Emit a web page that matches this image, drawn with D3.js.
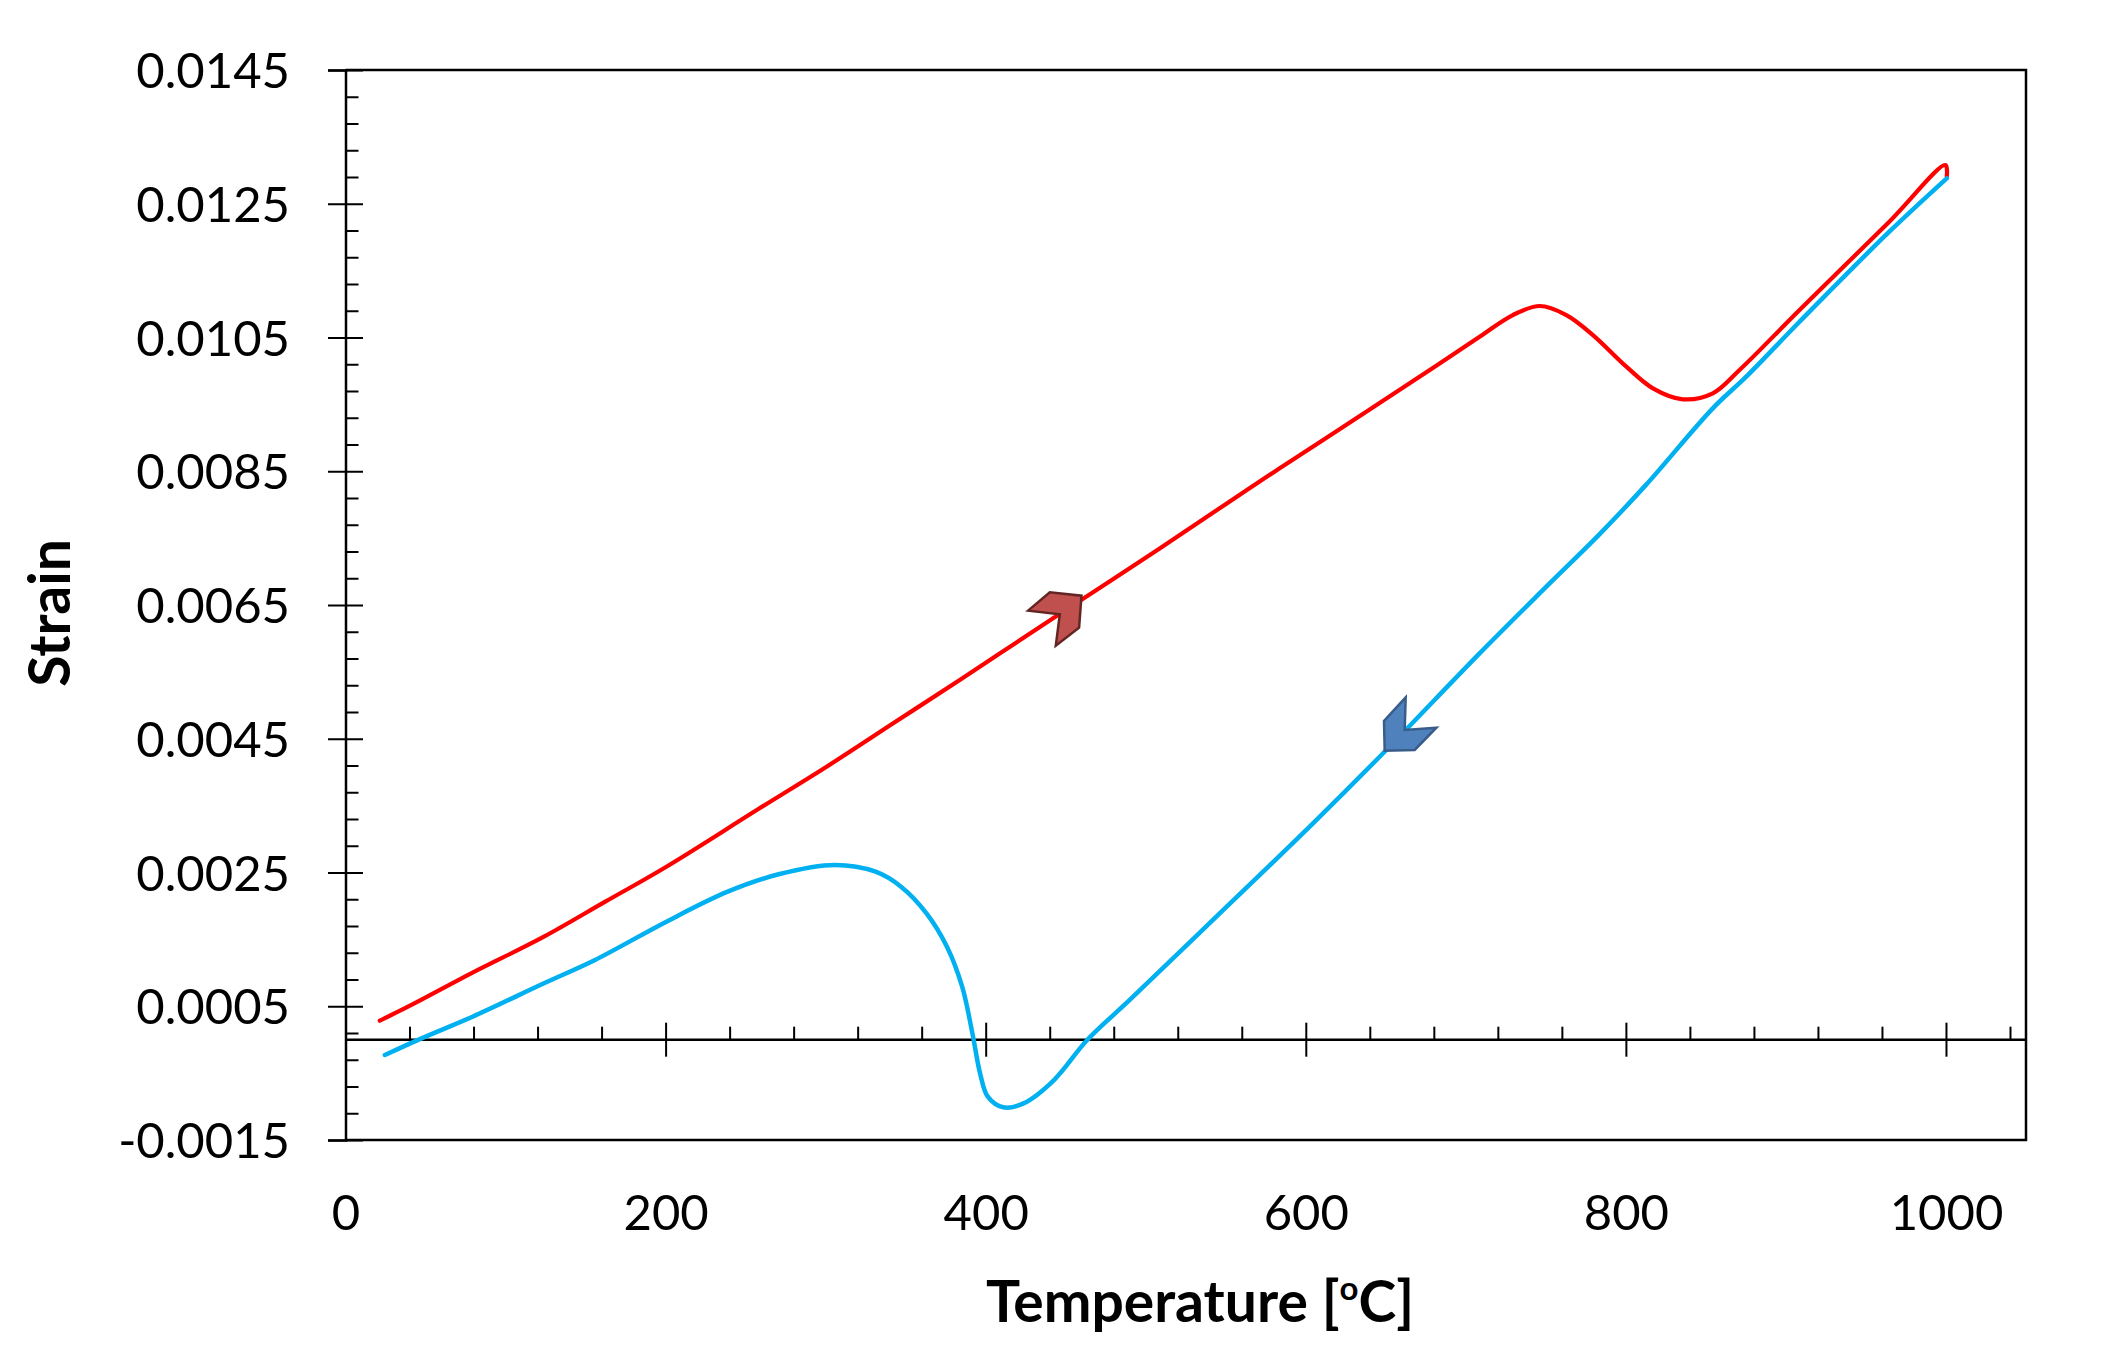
<!DOCTYPE html>
<html>
<head>
<meta charset="utf-8">
<script src="https://cdn.jsdelivr.net/npm/d3@7"></script>
<style>
  html, body { margin: 0; padding: 0; background: #ffffff; }
  svg { display: block; }
  text { font-family: "Lato", "Open Sans", sans-serif; fill: #000; }
</style>
</head>
<body>
<script>
// ---------------- DATA ----------------
// Heating curve (red): temperature [°C], strain
const heatingTemp = [21.4, 41.2, 79.4, 124, 162.3, 200.5, 258.7, 300.6, 342.2, 383.8, 442.1, 467.1, 508.7,
  550.4, 583.7, 625.4, 667, 708.6, 729.4, 746.1, 762.8, 779.4, 800.3, 816.9, 835.6, 854.3, 871, 908.5,
  964.6, 999.7, 1000.5];
const heatingStrain = [0.000284, 0.000519, 0.001002, 0.00154, 0.002064, 0.002587, 0.00346, 0.004082,
  0.004731, 0.005379, 0.006301, 0.006692, 0.007345, 0.008015, 0.008545, 0.009195, 0.009848, 0.010512,
  0.010836, 0.010971, 0.010836, 0.010537, 0.010064, 0.00974, 0.009576, 0.009665, 0.010014, 0.010911,
  0.012232, 0.013079, 0.012905];

// Cooling curve (blue): temperature [°C], strain
const coolingTemp = [1000.5, 964.6, 908.5, 875.2, 854.3, 812.7, 783.6, 750.3, 708.6, 650.3, 604.5, 542, 490,
  463.4, 442.7, 423.6, 410.9, 401.3, 396.5, 391.7, 385.3, 375.8, 363, 347.1, 331.2, 305.7, 270.6,
  238.8, 200.5, 155.9, 124, 79.4, 47.5, 24.6];
const coolingStrain = [0.01288, 0.012082, 0.010736, 0.009914, 0.009441, 0.0083, 0.00756, 0.006774,
  0.005777, 0.004332, 0.003235, 0.00179, 0.000594, -0.000005, -0.000603, -0.000952, -0.001011, -0.000852,
  -0.000503, 0.000095, 0.000793, 0.001391, 0.00189, 0.002288, 0.002512, 0.002612, 0.002473, 0.002213,
  0.001765, 0.001192, 0.000843, 0.000344, 0.00002, -0.000229];

// Direction arrows (anchor point on each curve)
const arrowNames = ["heating", "cooling"];
const arrowTemp = [446.3, 661.8];
const arrowStrain = [0.00636, 0.004631];

// Axes
const xDomain = [0, 1050];
const yDomain = [-0.0015, 0.0145];
const xMajorTicks = [0, 200, 400, 600, 800, 1000];
const xMinorStep = 40;
const yMajorTicks = [-0.0015, 0.0005, 0.0025, 0.0045, 0.0065, 0.0085, 0.0105, 0.0125, 0.0145];
const yMinorStep = 0.0004;
const xTitle = "Temperature [";
const xTitleSup = "o";
const xTitleEnd = "C]";
const yTitle = "Strain";

// ---------------- LAYOUT ----------------
const W = 2116, H = 1350;
const pLeft = 345.5, pRight = 2026, pTop = 70, pBottom = 1140;

const svg = d3.select("body").append("svg").attr("width", W).attr("height", H);

const x = d3.scaleLinear().domain(xDomain).range([pLeft, pRight]);
const y = d3.scaleLinear().domain(yDomain).range([pBottom, pTop]);

const fmtY = v => d3.format(".4f")(v).replace("\u2212", "-");

// minor tick values
const xMinor = d3.range(xDomain[0], xDomain[1] + 1e-9, xMinorStep).filter(v => Math.abs(v % 200) > 1e-6);
const yMinor = d3.range(0, 41).map(i => +(yDomain[0] + i * yMinorStep).toFixed(6))
  .filter(v => v <= yDomain[1] + 1e-9 && !yMajorTicks.some(m => Math.abs(m - v) < 1e-7));

const axisStroke = 2.5;

// Plot frame (top, right, bottom)
svg.append("path")
  .attr("d", `M${pLeft},${pTop}H${pRight}V${pBottom}H${pLeft}`)
  .attr("fill", "none").attr("stroke", "#000").attr("stroke-width", axisStroke);

// ---- Y axis ----
const yAxisOut = svg.append("g").attr("transform", `translate(${pLeft},0)`)
  .call(d3.axisLeft(y).tickValues(yMajorTicks).tickSize(17.5).tickPadding(38).tickFormat(fmtY));
yAxisOut.select(".domain").attr("stroke-width", axisStroke);
yAxisOut.selectAll(".tick line").attr("stroke-width", 2);
yAxisOut.selectAll(".tick text").attr("font-size", 49).attr("dy", "0.36em")
  .style("font-family", "Lato, 'Open Sans', sans-serif");

const yAxisIn = svg.append("g").attr("transform", `translate(${pLeft},0)`)
  .call(d3.axisRight(y).tickValues(yMajorTicks).tickSize(17.5).tickFormat(""));
yAxisIn.select(".domain").remove();
yAxisIn.selectAll(".tick line").attr("stroke-width", 2);

const yAxisMinor = svg.append("g").attr("transform", `translate(${pLeft},0)`)
  .call(d3.axisRight(y).tickValues(yMinor).tickSize(13).tickFormat(""));
yAxisMinor.select(".domain").remove();
yAxisMinor.selectAll(".tick line").attr("stroke-width", 2);

// ---- X axis (crossing at strain = 0) ----
const y0 = y(0);
const xAxisUp = svg.append("g").attr("transform", `translate(0,${y0})`)
  .call(d3.axisTop(x).tickValues(xMajorTicks).tickSize(17).tickFormat(""));
xAxisUp.select(".domain").attr("stroke-width", axisStroke)
  .attr("d", `M${pLeft},0H${pRight}`);
xAxisUp.selectAll(".tick line").attr("stroke-width", 2);

const xAxisDown = svg.append("g").attr("transform", `translate(0,${y0})`)
  .call(d3.axisBottom(x).tickValues(xMajorTicks.filter(v => v > 0)).tickSize(17).tickFormat(""));
xAxisDown.select(".domain").remove();
xAxisDown.selectAll(".tick line").attr("stroke-width", 2);

const xAxisMinor = svg.append("g").attr("transform", `translate(0,${y0})`)
  .call(d3.axisTop(x).tickValues(xMinor).tickSize(13).tickFormat(""));
xAxisMinor.select(".domain").remove();
xAxisMinor.selectAll(".tick line").attr("stroke-width", 2);

// X tick labels placed below the plot area
const xLabels = svg.append("g").attr("transform", `translate(0,${pBottom})`)
  .call(d3.axisBottom(x).tickValues(xMajorTicks).tickSize(0).tickPadding(55).tickFormat(d3.format("d")));
xLabels.select(".domain").remove();
xLabels.selectAll(".tick text").attr("font-size", 49)
  .style("font-family", "Lato, 'Open Sans', sans-serif");

// ---- Axis titles ----
const xt = svg.append("text")
  .attr("x", 1200).attr("y", 1322)
  .attr("text-anchor", "middle")
  .attr("font-size", 57).attr("font-weight", "bold");
xt.append("tspan").text(xTitle);
xt.append("tspan").attr("font-size", 33).attr("dy", -22).text(xTitleSup);
xt.append("tspan").attr("dy", 22).text(xTitleEnd);

svg.append("text")
  .attr("transform", "translate(70,613) rotate(-90)")
  .attr("text-anchor", "middle")
  .attr("font-size", 57).attr("font-weight", "bold")
  .text(yTitle);

// ---- Curves ----
const heating = heatingTemp.map((t, i) => ({ t, s: heatingStrain[i] }));
const cooling = coolingTemp.map((t, i) => ({ t, s: coolingStrain[i] }));

const line = d3.line().x(d => x(d.t)).y(d => y(d.s)).curve(d3.curveCatmullRom.alpha(0.5));

svg.append("path").datum(heating).attr("d", line)
  .attr("fill", "none").attr("stroke", "#FF0000").attr("stroke-width", 4.2)
  .attr("stroke-linejoin", "round").attr("stroke-linecap", "round");

svg.append("path").datum(cooling).attr("d", line)
  .attr("fill", "none").attr("stroke", "#00B0F0").attr("stroke-width", 4.5)
  .attr("stroke-linejoin", "round").attr("stroke-linecap", "round");

// ---- Direction chevrons ----
const chevronShapes = {
  heating: [[-31.7, -3.7], [-10, -22], [21.7, -18.7], [19.3, 13.3], [-4, 31.3], [0, 0]],
  cooling: [[1, -32.7], [-20.7, -9], [-20, 20.7], [10, 20], [31.7, -2.3], [0, 0]]
};
const chevronStyle = {
  heating: { fill: "#C0504D", stroke: "#632523" },
  cooling: { fill: "#4F81BD", stroke: "#385D8A" }
};
arrowNames.forEach((name, i) => {
  const cx = x(arrowTemp[i]), cy = y(arrowStrain[i]);
  const pts = chevronShapes[name].map(p => [cx + p[0], cy + p[1]]);
  svg.append("path")
    .attr("d", d3.line()(pts) + "Z")
    .attr("fill", chevronStyle[name].fill)
    .attr("stroke", chevronStyle[name].stroke)
    .attr("stroke-width", 2.5)
    .attr("stroke-linejoin", "miter");
});
</script>
</body>
</html>
